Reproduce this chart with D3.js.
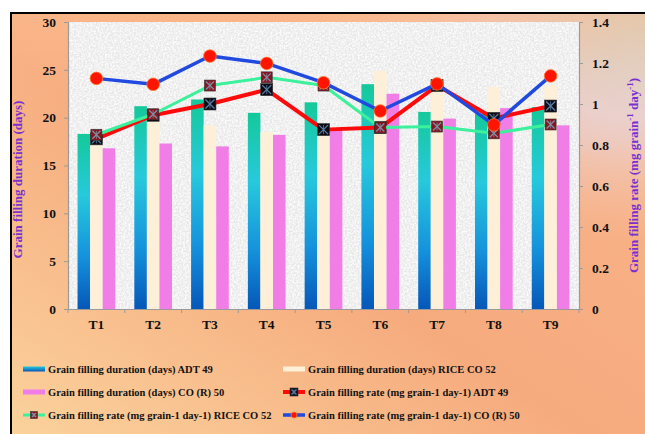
<!DOCTYPE html>
<html>
<head>
<meta charset="utf-8">
<script src="https://cdn.jsdelivr.net/npm/d3@7/dist/d3.min.js"></script>
<style>
  html, body { margin: 0; padding: 0; background: #fff; }
  svg { display: block; }
  text { font-family: "Liberation Serif", "Times New Roman", serif; font-weight: bold; }
</style>
</head>
<body>
<svg id="chart" width="645" height="434"></svg>
<script>
// Treatments
const categories = ["T1", "T2", "T3", "T4", "T5", "T6", "T7", "T8", "T9"];

// Grain filling duration (days)
const durationADT49 = [18.3, 21.2, 21.9, 20.5, 21.6, 23.5, 20.6, 20.4, 21.1];
const durationRiceCO52 = [17.2, 19.8, 19.2, 18.5, 18.9, 24.9, 23.3, 23.2, 23.4];
const durationCOR50 = [16.8, 17.3, 17.0, 18.2, 18.8, 22.5, 19.9, 21.0, 19.2];

// Grain filling rate (mg grain-1 day-1)
const rateADT49 = [0.83, 0.945, 1.0, 1.07, 0.875, 0.885, 1.09, 0.93, 0.99];
const rateRiceCO52 = [0.85, 0.95, 1.09, 1.13, 1.09, 0.885, 0.89, 0.857, 0.90];
const rateCOR50 = [1.125, 1.096, 1.234, 1.198, 1.104, 0.966, 1.098, 0.898, 1.137];

// Axis ticks
const durationTicks = [0, 5, 10, 15, 20, 25, 30];
const rateTicks = [0, 0.2, 0.4, 0.6, 0.8, 1, 1.2, 1.4];

const legendLabels = [
  "Grain filling duration (days) ADT 49",
  "Grain filling duration (days) RICE CO 52",
  "Grain filling duration (days) CO (R) 50",
  "Grain filling rate (mg grain-1 day-1) ADT 49",
  "Grain filling rate (mg grain-1 day-1) RICE CO 52",
  "Grain filling rate (mg grain-1 day-1) CO (R) 50"
];

const W = 645, H = 434;
const plot = { left: 68, right: 579, top: 22, bottom: 309 };

const svg = d3.select("#chart");
const defs = svg.append("defs");

// Page background: warm peach with a cool glow at the top right
const bgLin = defs.append("linearGradient").attr("id", "bgLin")
  .attr("x1", 0).attr("y1", 1).attr("x2", 1).attr("y2", 0);
bgLin.append("stop").attr("offset", 0).attr("stop-color", "#fbd29c");
bgLin.append("stop").attr("offset", 0.45).attr("stop-color", "#f6ab7e");
bgLin.append("stop").attr("offset", 1).attr("stop-color", "#f8b48a");

const bgGlow = defs.append("radialGradient").attr("id", "bgGlow")
  .attr("cx", 1).attr("cy", 0).attr("r", 0.55);
bgGlow.append("stop").attr("offset", 0).attr("stop-color", "#b8e6ee").attr("stop-opacity", 1);
bgGlow.append("stop").attr("offset", 0.45).attr("stop-color", "#e4dcea").attr("stop-opacity", 0.8);
bgGlow.append("stop").attr("offset", 1).attr("stop-color", "#f8c8b0").attr("stop-opacity", 0);

const bgTop = defs.append("linearGradient").attr("id", "bgTop")
  .attr("x1", 0).attr("y1", 0).attr("x2", 0).attr("y2", 1);
bgTop.append("stop").attr("offset", 0).attr("stop-color", "#fbb98c").attr("stop-opacity", 0.7);
bgTop.append("stop").attr("offset", 0.3).attr("stop-color", "#fbb98c").attr("stop-opacity", 0);

// Soft, light granite-like texture for the plotting area
const granite = defs.append("filter").attr("id", "granite")
  .attr("x", 0).attr("y", 0).attr("width", 1).attr("height", 1);
granite.append("feTurbulence").attr("type", "fractalNoise")
  .attr("baseFrequency", 0.55).attr("numOctaves", 2).attr("seed", 4).attr("result", "noise");
granite.append("feColorMatrix").attr("in", "noise").attr("type", "matrix")
  .attr("values", "0 0 0 0 0.7  0 0 0 0 0.7  0 0 0 0 0.7  1.3 0 0 0 -0.62")
  .attr("result", "dark");
granite.append("feColorMatrix").attr("in", "noise").attr("type", "matrix")
  .attr("values", "0 0 0 0 1  0 0 0 0 1  0 0 0 0 1  -2.4 0 0 0 1.4")
  .attr("result", "light");
granite.append("feGaussianBlur").attr("in", "dark").attr("stdDeviation", 0.5).attr("result", "darkSoft");
granite.append("feMerge").call(m => {
  m.append("feMergeNode").attr("in", "SourceGraphic");
  m.append("feMergeNode").attr("in", "darkSoft");
  m.append("feMergeNode").attr("in", "light");
});

// Bar fill for ADT 49 durations
const barGrad = defs.append("linearGradient").attr("id", "barADT")
  .attr("x1", 0).attr("y1", 0).attr("x2", 0).attr("y2", 1);
barGrad.append("stop").attr("offset", 0).attr("stop-color", "#14c99a");
barGrad.append("stop").attr("offset", 0.35).attr("stop-color", "#27c9dc");
barGrad.append("stop").attr("offset", 0.7).attr("stop-color", "#1592dc");
barGrad.append("stop").attr("offset", 1).attr("stop-color", "#0657b8");

const legGrad = defs.append("linearGradient").attr("id", "legADT")
  .attr("x1", 0).attr("y1", 0).attr("x2", 0).attr("y2", 1);
legGrad.append("stop").attr("offset", 0).attr("stop-color", "#27c9dc");
legGrad.append("stop").attr("offset", 1).attr("stop-color", "#0657b8");

// Background
svg.append("rect").attr("x", 11).attr("y", 13).attr("width", W - 11).attr("height", H - 13)
  .attr("fill", "url(#bgLin)");
svg.append("rect").attr("x", 11).attr("y", 13).attr("width", W - 11).attr("height", H - 13)
  .attr("fill", "url(#bgGlow)");
svg.append("rect").attr("x", 11).attr("y", 13).attr("width", W - 11).attr("height", H - 13)
  .attr("fill", "url(#bgTop)");
// Frame
svg.append("path")
  .attr("d", `M11,${H} L11,13 L${W},13`)
  .attr("fill", "none").attr("stroke", "#000").attr("stroke-width", 2);

// Plot area
svg.append("rect")
  .attr("x", plot.left).attr("y", plot.top)
  .attr("width", plot.right - plot.left).attr("height", plot.bottom - plot.top)
  .attr("fill", "#eeeeee").attr("filter", "url(#granite)");

// Scales
const x = d3.scaleBand().domain(categories).range([plot.left, plot.right])
  .paddingInner(0.336).paddingOuter(0.168);
const seriesKeys = ["adt", "rice", "cor"];
const xs = d3.scaleBand().domain(seriesKeys).range([0, x.bandwidth()]);
const yL = d3.scaleLinear().domain([0, 30]).range([plot.bottom, plot.top]);
const yR = d3.scaleLinear().domain([0, 1.4]).range([plot.bottom, plot.top]);

// Bars
const barSeries = [
  { key: "adt", values: durationADT49, fill: "url(#barADT)" },
  { key: "rice", values: durationRiceCO52, fill: "#fdefd8" },
  { key: "cor", values: durationCOR50, fill: "#f07ee6" }
];
barSeries.forEach(s => {
  svg.append("g").selectAll("rect").data(s.values).join("rect")
    .attr("x", (d, i) => x(categories[i]) + xs(s.key))
    .attr("y", d => yL(d))
    .attr("width", xs.bandwidth())
    .attr("height", d => yL(0) - yL(d))
    .attr("fill", s.fill);
});

// Axes
const axisColor = "#9a9a9a";
const gL = svg.append("g").attr("transform", `translate(${plot.left},0)`)
  .call(d3.axisLeft(yL).tickValues(durationTicks).tickSize(4).tickPadding(8));
const gR = svg.append("g").attr("transform", `translate(${plot.right},0)`)
  .call(d3.axisRight(yR).tickValues(rateTicks).tickSize(4).tickPadding(9)
    .tickFormat(d3.format("~g")));
const gB = svg.append("g").attr("transform", `translate(0,${plot.bottom})`)
  .call(d3.axisBottom(x).tickSize(0).tickPadding(10));
[gL, gR, gB].forEach(g => {
  g.select(".domain").attr("stroke", axisColor).attr("stroke-width", 1.2);
  g.selectAll(".tick line").attr("stroke", axisColor);
  g.selectAll(".tick text").attr("font-size", 13.5).attr("fill", "#111")
    .attr("font-family", "Liberation Serif, serif").attr("font-weight", "bold");
});
// Category boundary ticks on the x axis
const step = x.step();
const bounds = categories.map(c => x(c) - step * x.paddingInner() / 2)
  .concat([x(categories[categories.length - 1]) + x.bandwidth() + step * x.paddingInner() / 2]);
svg.append("g").selectAll("line").data(bounds).join("line")
  .attr("x1", d => d).attr("x2", d => d)
  .attr("y1", plot.bottom).attr("y2", plot.bottom + 4)
  .attr("stroke", axisColor);

// Axis titles
const titleColor = "#7a2fd0";
svg.append("text")
  .attr("transform", `translate(22,${(plot.top + plot.bottom) / 2 + 14}) rotate(-90)`)
  .attr("text-anchor", "middle").attr("font-size", 13).attr("fill", titleColor)
  .text("Grain filling duration (days)");
const rt = svg.append("text")
  .attr("transform", `translate(638,${(plot.top + plot.bottom) / 2 + 10}) rotate(-90)`)
  .attr("text-anchor", "middle").attr("font-size", 13).attr("fill", titleColor);
rt.append("tspan").text("Grain filling rate (mg grain");
rt.append("tspan").attr("font-size", 9).attr("dy", -5).text("-1");
rt.append("tspan").attr("dy", 5).text(" day");
rt.append("tspan").attr("font-size", 9).attr("dy", -5).text("-1");
rt.append("tspan").attr("dy", 5).text(")");

// Marker drawing helpers
function squareX(g, size, fill, cross) {
  g.append("rect").attr("x", -size / 2).attr("y", -size / 2)
    .attr("width", size).attr("height", size).attr("fill", fill)
    .attr("stroke", "#333").attr("stroke-width", 0.6);
  const h = size / 2 - 1.5;
  g.append("path").attr("d", `M${-h},${-h}L${h},${h}M${-h},${h}L${h},${-h}`)
    .attr("stroke", cross).attr("stroke-width", 1.3);
  g.append("path").attr("d", `M0,${-h}L0,${h}`)
    .attr("stroke", cross).attr("stroke-width", 0.8);
}
function circleMark(g, r) {
  g.append("circle").attr("r", r).attr("fill", "#ff1400")
    .attr("stroke", "#ff7a30").attr("stroke-width", 0.8);
}

const lineSeries = [
  { values: rateADT49, color: "#ff0a0a", width: 4, marker: g => squareX(g, 12, "#0b0b14", "#5a7fa8") },
  { values: rateRiceCO52, color: "#3cf09c", width: 3, marker: g => squareX(g, 11, "#8a1420", "#7d8fa6") },
  { values: rateCOR50, color: "#2049e0", width: 3.5, marker: g => circleMark(g, 6.3) }
];
const line = d3.line()
  .x((d, i) => x(categories[i]) + x.bandwidth() / 2)
  .y(d => yR(d));
lineSeries.forEach(s => {
  svg.append("path").datum(s.values).attr("d", line)
    .attr("fill", "none").attr("stroke", s.color).attr("stroke-width", s.width)
    .attr("stroke-linejoin", "round");
  s.values.forEach((v, i) => {
    const g = svg.append("g")
      .attr("transform", `translate(${x(categories[i]) + x.bandwidth() / 2},${yR(v)})`);
    s.marker(g);
  });
});

// Legend
const legendItems = [
  { label: legendLabels[0], type: "bar", fill: "url(#legADT)" },
  { label: legendLabels[1], type: "bar", fill: "#fdefd8" },
  { label: legendLabels[2], type: "bar", fill: "#f07ee6" },
  { label: legendLabels[3], type: "line", color: "#ff0a0a", width: 4, marker: g => squareX(g, 8, "#0b0b14", "#5a7fa8") },
  { label: legendLabels[4], type: "line", color: "#3cf09c", width: 3, marker: g => squareX(g, 7, "#8a1420", "#7d8fa6") },
  { label: legendLabels[5], type: "line", color: "#2049e0", width: 3.5, marker: g => circleMark(g, 3) }
];
const legCols = [23, 283], legRows = [369, 392, 415];
legendItems.forEach((it, i) => {
  const g = svg.append("g")
    .attr("transform", `translate(${legCols[i % 2]},${legRows[Math.floor(i / 2)]})`);
  if (it.type === "bar") {
    g.append("rect").attr("x", 0).attr("y", -2.5).attr("width", 22).attr("height", 5).attr("fill", it.fill);
  } else {
    g.append("line").attr("x1", 0).attr("x2", 22).attr("y1", 0).attr("y2", 0)
      .attr("stroke", it.color).attr("stroke-width", it.width);
    const m = g.append("g").attr("transform", "translate(11,0)");
    it.marker(m);
  }
  g.append("text").attr("x", 25).attr("y", 3.5).attr("font-size", 10.5).attr("fill", "#111")
    .text(it.label);
});
</script>
</body>
</html>
